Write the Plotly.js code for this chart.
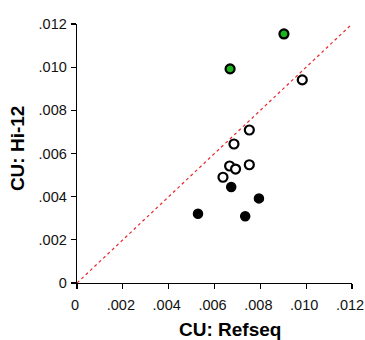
<!DOCTYPE html>
<html><head><meta charset="utf-8">
<script src="https://cdn.plot.ly/plotly-3.0.1.min.js"></script>
<style>html,body{margin:0;padding:0;background:#fff}#c{width:365px;height:340px}</style>
</head><body><div id="c"></div>
<script>
const greenX = [0.00903, 0.00668];
const greenY = [0.01154, 0.00992];
const openX = [0.00983, 0.00752, 0.00685, 0.00666, 0.00692, 0.00752, 0.00637];
const openY = [0.00941, 0.00709, 0.00644, 0.00542, 0.00528, 0.00548, 0.00490];
const filledX = [0.00673, 0.00794, 0.00528, 0.00734];
const filledY = [0.00445, 0.00392, 0.00321, 0.00309];
const tickVals = [0, 0.002, 0.004, 0.006, 0.008, 0.010, 0.012];
const tickText = ['0', '.002', '.004', '.006', '.008', '.010', '.012'];
const diagX = [0, 0.012];
const diagY = [0, 0.012];
const xTitle = 'CU: Refseq';
const yTitle = 'CU: Hi-12';

const traces = [
  {x: diagX, y: diagY, mode: 'lines', line: {color: '#e8262a', width: 1.2, dash: 'dot'}, hoverinfo: 'skip', cliponaxis: false},
  {x: openX, y: openY, mode: 'markers', marker: {size: 9, color: '#ffffff', line: {color: '#000', width: 2.2}}},
  {x: filledX, y: filledY, mode: 'markers', marker: {size: 9, color: '#000000', line: {color: '#000', width: 1.5}}},
  {x: greenX, y: greenY, mode: 'markers', marker: {size: 9, color: '#1db31d', line: {color: '#000', width: 2.2}}}
];
const font = 'Liberation Sans, Arial, sans-serif';
const axisCommon = {
  range: [0, 0.0120005], tickvals: tickVals, ticktext: tickText,
  showgrid: false, zeroline: false, showline: true, linecolor: '#000', linewidth: 1.3,
  ticks: 'outside', ticklen: 5, tickwidth: 1.3, tickcolor: '#000',
  ticklabeloverflow: 'allow', automargin: false,
  tickfont: {family: font, size: 14.5, color: '#111'}
};
const layout = {
  width: 365, height: 340,
  margin: {l: 77, r: 13, t: 24, b: 57},
  showlegend: false,
  paper_bgcolor: '#fff', plot_bgcolor: '#fff',
  xaxis: Object.assign({}, axisCommon, {ticklabelshift: -2, ticklabelstandoff: 3}),
  yaxis: Object.assign({}, axisCommon, {ticklabelstandoff: 1}),
  annotations: [
    {text: xTitle, xref: 'paper', yref: 'paper', x: 0.556, y: -0.178, xanchor: 'center', yanchor: 'middle', showarrow: false,
     font: {family: font, size: 19, color: '#000', weight: 'bold'}},
    {text: yTitle, xref: 'paper', yref: 'paper', x: -0.218, y: 0.521, xanchor: 'center', yanchor: 'middle', showarrow: false, textangle: -90,
     font: {family: font, size: 19, color: '#000', weight: 'bold'}}
  ]
};
Plotly.newPlot('c', traces, layout, {displayModeBar: false, staticPlot: true});
</script></body></html>
